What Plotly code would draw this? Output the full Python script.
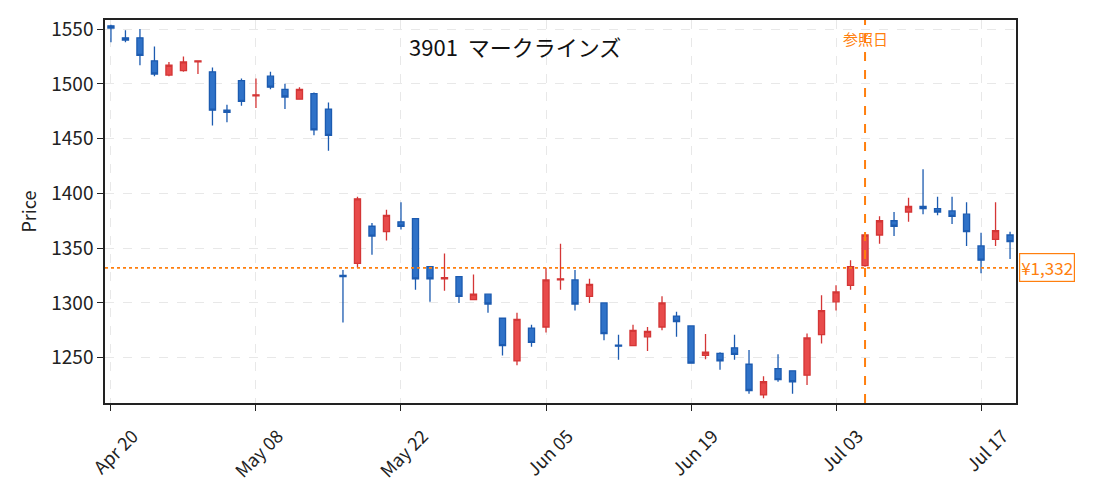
import plotly.graph_objects as go

# 3901 マークラインズ daily OHLC
dates = [
    "2023-04-20", "2023-04-21", "2023-04-24", "2023-04-25", "2023-04-26",
    "2023-04-27", "2023-04-28", "2023-05-01", "2023-05-02", "2023-05-03",
    "2023-05-08", "2023-05-09", "2023-05-10", "2023-05-11", "2023-05-12",
    "2023-05-15", "2023-05-16", "2023-05-17", "2023-05-18", "2023-05-19",
    "2023-05-22", "2023-05-23", "2023-05-24", "2023-05-25", "2023-05-26",
    "2023-05-29", "2023-05-30", "2023-05-31", "2023-06-01", "2023-06-02",
    "2023-06-05", "2023-06-06", "2023-06-07", "2023-06-08", "2023-06-09",
    "2023-06-12", "2023-06-13", "2023-06-14", "2023-06-15", "2023-06-16",
    "2023-06-19", "2023-06-20", "2023-06-21", "2023-06-22", "2023-06-23",
    "2023-06-26", "2023-06-27", "2023-06-28", "2023-06-29", "2023-06-30",
    "2023-07-03", "2023-07-04", "2023-07-05", "2023-07-06", "2023-07-07",
    "2023-07-10", "2023-07-11", "2023-07-12", "2023-07-13", "2023-07-14",
    "2023-07-17", "2023-07-18", "2023-07-19",
]
opens = [1553, 1542, 1542, 1521, 1508, 1512, 1520, 1511, 1476, 1503,
         1489, 1507, 1495, 1486, 1491, 1477, 1325, 1336, 1370, 1365,
         1374, 1377, 1333, 1322, 1324, 1303, 1308, 1286, 1247, 1277,
         1278, 1321, 1321, 1306, 1300, 1261.5, 1261, 1269, 1278, 1288,
         1279, 1252, 1254, 1259, 1244, 1216, 1240, 1238, 1234, 1271,
         1301, 1316, 1334, 1362, 1375, 1383, 1388, 1386, 1384, 1381,
         1352, 1358, 1362]
highs = [1554, 1549, 1550, 1534, 1520, 1525, 1521, 1515, 1481, 1505,
         1505, 1511, 1500, 1497, 1492, 1483, 1330, 1397, 1373, 1385,
         1392, 1377, 1333, 1345, 1324, 1326, 1308, 1286, 1291, 1280,
         1332, 1354, 1330, 1322, 1300, 1271, 1280, 1278, 1306, 1292,
         1279, 1271.5, 1255, 1271, 1257, 1233, 1253, 1238, 1272, 1307,
         1316, 1339, 1363, 1379, 1383, 1396, 1422, 1397, 1397, 1392,
         1364, 1392, 1365]
lows = [1538, 1538, 1517, 1507, 1507, 1511, 1509, 1462, 1465, 1480,
        1478, 1495, 1477, 1486, 1453, 1439, 1282, 1332, 1344, 1357,
        1367, 1312, 1301, 1311, 1300, 1303, 1291, 1252, 1243, 1260,
        1273, 1312, 1293, 1300, 1266, 1248, 1261, 1256, 1275, 1269,
        1245, 1248.5, 1239, 1248, 1217, 1213, 1228, 1217, 1225, 1263,
        1293, 1312, 1333, 1354, 1361, 1374, 1381, 1380, 1372, 1352,
        1327, 1352, 1340]
closes = [1551, 1540, 1526, 1509, 1517, 1520, 1521, 1476, 1474, 1484,
          1490, 1497, 1488, 1495, 1458, 1453, 1324, 1395, 1361, 1380,
          1370, 1322, 1322, 1323, 1306, 1308, 1299, 1261, 1285, 1264,
          1321, 1322, 1299, 1317, 1272, 1260.5, 1275, 1274, 1300, 1283,
          1245, 1255, 1247, 1253, 1220, 1228, 1230, 1228, 1268, 1293,
          1310, 1333, 1362, 1375, 1370, 1388, 1386, 1383, 1379, 1365,
          1339, 1366, 1356]

tick_dates = ["2023-04-20", "2023-05-08", "2023-05-22", "2023-06-05",
              "2023-06-19", "2023-07-03", "2023-07-17"]
tick_labels = ["Apr 20", "May 08", "May 22", "Jun 05", "Jun 19", "Jul 03", "Jul 17"]
y_ticks = [1250, 1300, 1350, 1400, 1450, 1500, 1550]

ref_date = "2023-07-05"
ref_price = 1332
title_text = "3901  マークラインズ"

ORANGE = "#ff7f0e"
FONT = "Noto Sans CJK JP"

fig = go.Figure()
fig.add_trace(
    go.Candlestick(
        x=dates,
        open=opens,
        high=highs,
        low=lows,
        close=closes,
        increasing=dict(fillcolor="#e84b4b", line=dict(color="#d43636", width=1.3)),
        decreasing=dict(fillcolor="#2f72c8", line=dict(color="#1c5bb0", width=1.3)),
        showlegend=False,
        hoverinfo="x+y",
    )
)

# reference price line + label
fig.add_shape(type="line", xref="paper", x0=0, x1=1, yref="y", y0=ref_price, y1=ref_price,
              line=dict(color=ORANGE, width=1.6, dash="dot"))
fig.add_annotation(xref="paper", x=1, xanchor="left", xshift=3, yref="y", y=ref_price,
                   yanchor="middle", text="¥{:,}".format(ref_price), showarrow=False,
                   font=dict(family=FONT, size=17, color=ORANGE),
                   bgcolor="white", bordercolor=ORANGE, borderwidth=1.2, borderpad=1)

# reference date line
fig.add_shape(type="line", xref="x", x0=ref_date, x1=ref_date, yref="paper", y0=0, y1=1,
              line=dict(color=ORANGE, width=2, dash="dash"))
fig.add_annotation(xref="x", x=ref_date, xanchor="center", yref="paper", y=0.951,
                   yanchor="middle", text="参照日", showarrow=False,
                   font=dict(family=FONT, size=15, color=ORANGE))

fig.add_annotation(xref="paper", x=0.45, xanchor="center", yref="paper", y=0.933,
                   yanchor="middle", text=title_text, showarrow=False,
                   font=dict(family=FONT, size=22, color="#111111"))

# page body has an 8px margin, so the figure is sized/offset to compensate
fig.update_layout(
    width=1087,
    height=484,
    margin=dict(l=97, r=79, t=6, b=89),
    paper_bgcolor="white",
    plot_bgcolor="white",
    font=dict(family=FONT, size=18, color="#222222"),
    boxgap=0.4,
    xaxis=dict(
        type="category",
        range=[-0.41, 62.41],
        rangeslider=dict(visible=False),
        tickmode="array",
        tickvals=tick_dates,
        ticktext=tick_labels,
        tickangle=-45,
        ticklabelshift=22,
        ticklabelstandoff=8,
        ticks="outside",
        ticklen=6,
        tickcolor="#222222",
        tickfont=dict(size=18),
        showline=True,
        linecolor="#222222",
        linewidth=1.5,
        mirror=True,
        showgrid=True,
        gridcolor="#e8e8e8",
        griddash="dash",
        zeroline=False,
    ),
    yaxis=dict(
        range=[1208.6, 1558.3],
        tickvals=y_ticks,
        ticks="outside",
        ticklen=6,
        tickcolor="#222222",
        tickfont=dict(size=19),
        showline=True,
        linecolor="#222222",
        linewidth=1.5,
        mirror=True,
        showgrid=True,
        gridcolor="#e8e8e8",
        griddash="dash",
        zeroline=False,
        title=dict(text="Price", font=dict(size=18), standoff=10),
    ),
)

fig.write_html("out.html")
